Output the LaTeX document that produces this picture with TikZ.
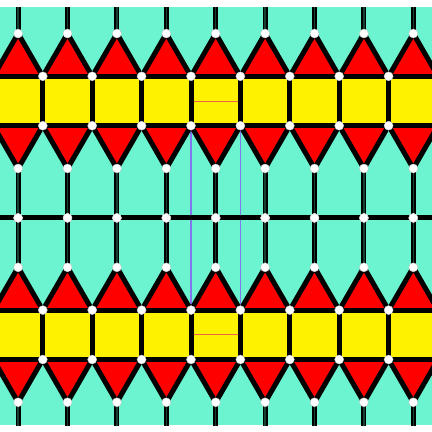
\documentclass[tikz,border=0pt]{standalone}
\definecolor{aqua}{RGB}{108,243,208}
\definecolor{corecol}{RGB}{22,64,52}
\definecolor{pinkline}{RGB}{238,96,64}
\definecolor{blueline}{RGB}{128,120,236}
\tikzset{
  edge/.style={line width=5pt, black, line cap=round},
  edgecore/.style={line width=1.4pt, corecol},
  tilesq/.style={fill=yellow},
  tiletri/.style={fill=red},
  vtx/.style={fill=white, draw=gray!45, line width=0.4pt},
  redmark/.style={line width=1pt, pinkline},
  bluemark/.style={line width=1.1pt, blueline}
}
\begin{document}
\begin{tikzpicture}[x=1pt,y=-1pt]
\useasboundingbox (0,0) rectangle (432,432);
\fill[white] (0,0) rectangle (432,432);
\def\a{49.4}
\def\h{42.78}
\def\xo{42.8}
\begin{scope}
\clip (0,7) rectangle (432,425);
\fill[aqua] (0,7) rectangle (432,425);
% fills
\foreach \yc in {101,334.8}{
  \pgfmathsetmacro\ya{\yc-\a/2}
  \pgfmathsetmacro\yb{\yc+\a/2}
  \pgfmathsetmacro\yt{\ya-\h}
  \pgfmathsetmacro\ybb{\yb+\h}
  \fill[tilesq] (-10,\ya) rectangle (442,\yb);
  \foreach \k in {-1,...,8}{
    \pgfmathsetmacro\xk{\xo+\k*\a}
    \pgfmathsetmacro\xm{\xk+\a/2}
    \pgfmathsetmacro\xn{\xk+\a}
    \fill[tiletri] (\xk,\ya) -- (\xm,\yt) -- (\xn,\ya) -- cycle;
    \fill[tiletri] (\xk,\yb) -- (\xm,\ybb) -- (\xn,\yb) -- cycle;
  }
}
% marks
\coordinate (p1) at (191.0,101);
\coordinate (p2) at (240.4,101);
\coordinate (q1) at (191.0,334.8);
\coordinate (q2) at (240.4,334.8);
\coordinate (b1) at (191.0,125.7);
\coordinate (b2) at (240.4,125.7);
\coordinate (c1) at (191.0,310.1);
\coordinate (c2) at (240.4,310.1);
\draw[redmark] (p1) -- (p2);
\draw[redmark] (q1) -- (q2);
\draw[bluemark] (b1) -- (c1);
\draw[bluemark] (b2) -- (c2);
% edges
\foreach \yc in {101,334.8}{
  \pgfmathsetmacro\ya{\yc-\a/2}
  \pgfmathsetmacro\yb{\yc+\a/2}
  \pgfmathsetmacro\yt{\ya-\h}
  \pgfmathsetmacro\ybb{\yb+\h}
  \pgfmathsetmacro\ylt{\yt-\a}
  \pgfmathsetmacro\ylb{\ybb+\a}
  \draw[edge] (-10,\ya) -- (442,\ya);
  \draw[edge] (-10,\yb) -- (442,\yb);
  \draw[edge] (-10,\ylt) -- (442,\ylt);
  \draw[edge] (-10,\ylb) -- (442,\ylb);
  \foreach \k in {-1,...,8}{
    \pgfmathsetmacro\xk{\xo+\k*\a}
    \pgfmathsetmacro\xm{\xk+\a/2}
    \pgfmathsetmacro\xn{\xk+\a}
    \draw[edge] (\xk,\ya) -- (\xk,\yb);
    \draw[edge] (\xk,\ya) -- (\xm,\yt) -- (\xn,\ya);
    \draw[edge] (\xk,\yb) -- (\xm,\ybb) -- (\xn,\yb);
    \draw[edge] (\xm,\yt) -- (\xm,\ylt);
    \draw[edge] (\xm,\ybb) -- (\xm,\ylb);
    \draw[edgecore] (\xm,\yt) -- (\xm,\ylt);
    \draw[edgecore] (\xm,\ybb) -- (\xm,\ylb);
  }
}
% vertices
\foreach \yc in {101,334.8}{
  \pgfmathsetmacro\ya{\yc-\a/2}
  \pgfmathsetmacro\yb{\yc+\a/2}
  \pgfmathsetmacro\yt{\ya-\h}
  \pgfmathsetmacro\ybb{\yb+\h}
  \pgfmathsetmacro\ylt{\yt-\a}
  \pgfmathsetmacro\ylb{\ybb+\a}
  \foreach \k in {-1,...,8}{
    \pgfmathsetmacro\xk{\xo+\k*\a}
    \pgfmathsetmacro\xm{\xk+\a/2}
    \draw[vtx] (\xk,\ya) circle (4.5);
    \draw[vtx] (\xk,\yb) circle (4.5);
    \draw[vtx] (\xm,\yt) circle (4.5);
    \draw[vtx] (\xm,\ybb) circle (4.5);
    \draw[vtx] (\xm,\ylt) circle (4.5);
    \draw[vtx] (\xm,\ylb) circle (4.5);
  }
}
\end{scope}
\end{tikzpicture}
\end{document}
